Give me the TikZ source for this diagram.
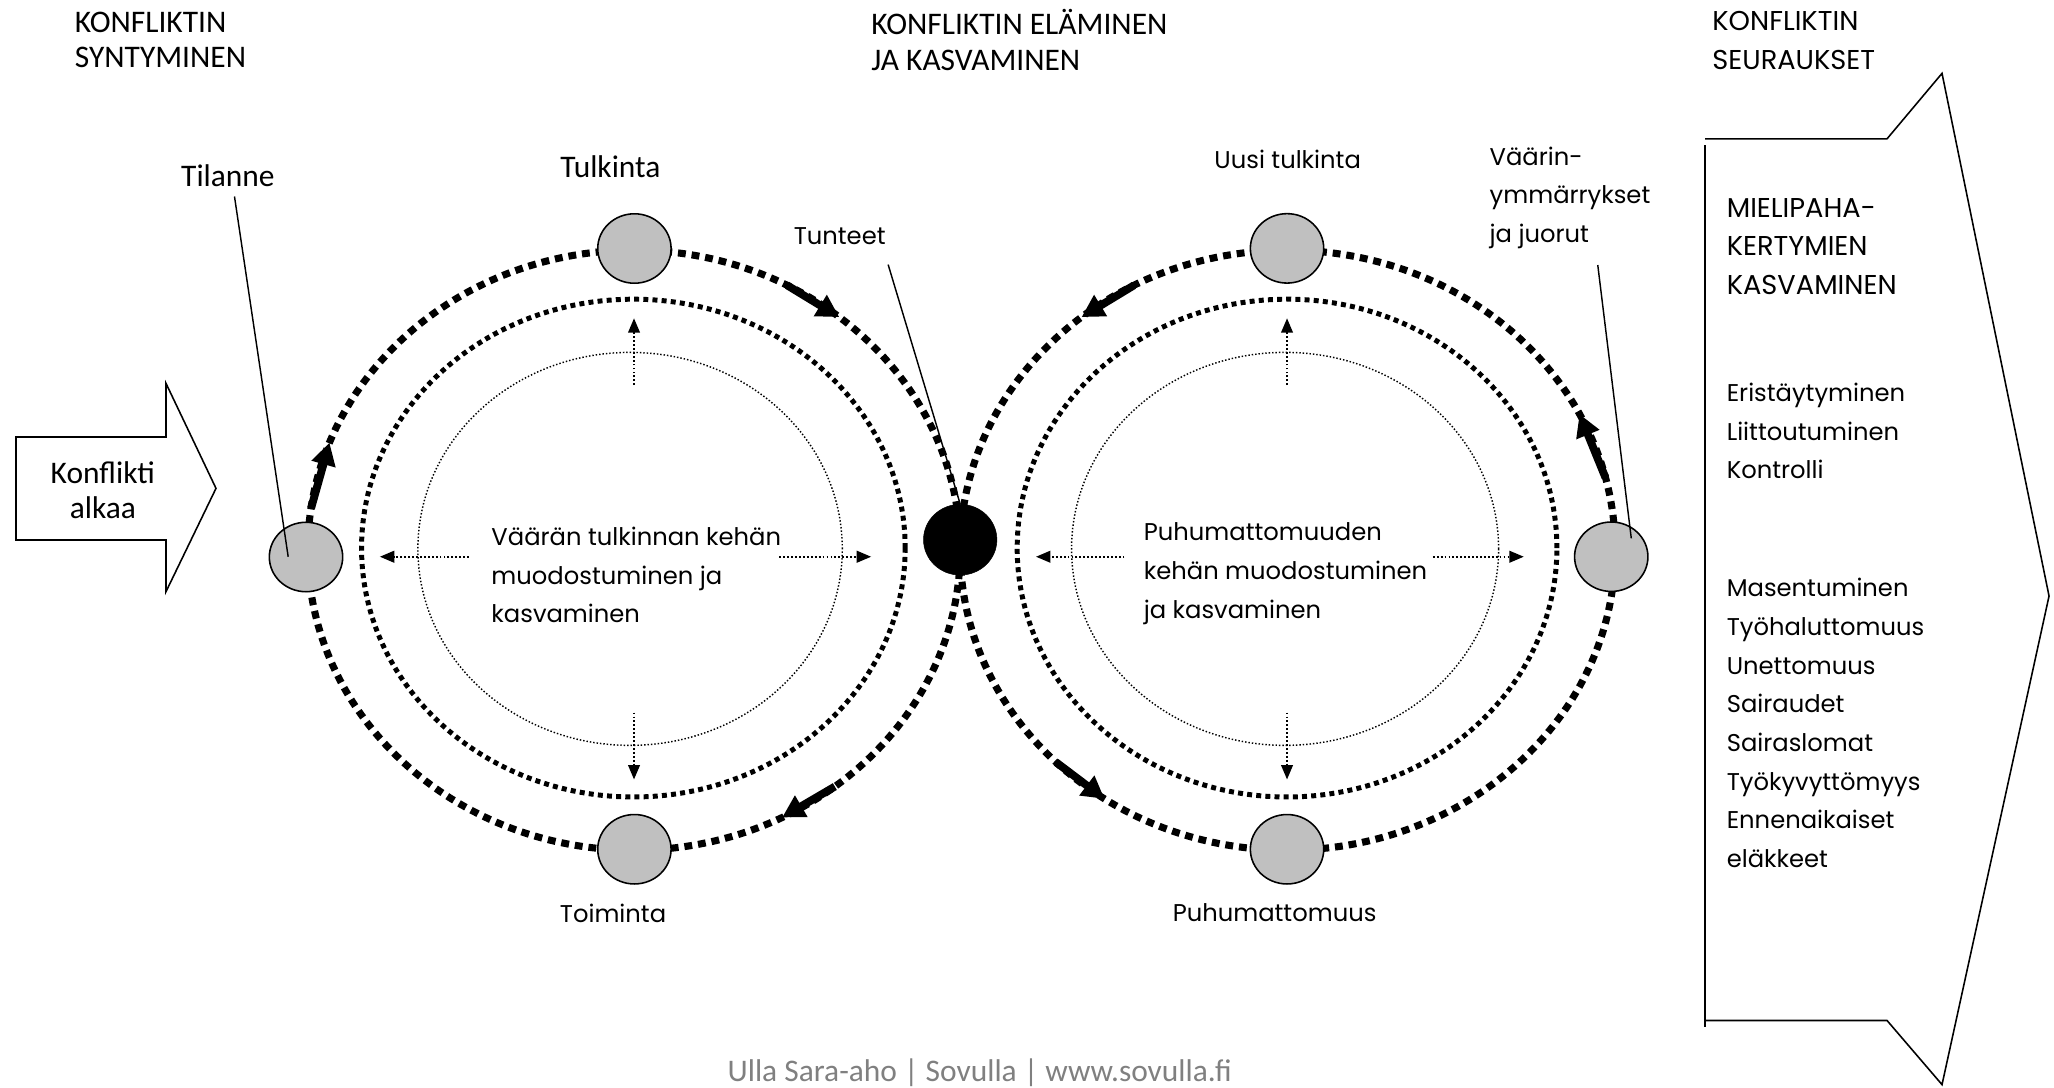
\documentclass[tikz,border=0pt]{standalone}
\usepackage{fontspec}
\setmainfont{Carlito}
\newfontfamily\fut{Poppins}
\usetikzlibrary{shapes.geometric,arrows.meta,calc}
\definecolor{cgray}{RGB}{192,192,192}
\definecolor{footgray}{RGB}{128,128,128}
\begin{document}
\begin{tikzpicture}[x=1pt,y=-1pt,
  ring/.style={line width=5.4pt, dash pattern=on 6pt off 4.5pt},
  iring/.style={line width=3.8pt, dash pattern=on 3.8pt off 3.2pt},
  thinring/.style={line width=1.1pt, dash pattern=on 1.1pt off 1.5pt},
  darrow/.style={line width=1.2pt, dash pattern=on 1.4pt off 1.6pt, -{Triangle[length=11pt,width=9pt]}},
  rarrow/.style={line width=6pt, -{Triangle[length=17pt,width=18pt]}},
  gnode/.style={ellipse, draw, line width=1.2pt, fill=cgray, minimum width=56pt, minimum height=53pt, inner sep=0pt},
  bnode/.style={ellipse, draw, fill=black, minimum width=56pt, minimum height=54pt, inner sep=0pt},
  cal/.style={font=\fontsize{24}{27}\selectfont, inner sep=0pt},
  fu/.style={font=\fut\fontsize{18.5}{29.5}\selectfont, inner sep=0pt},
  fucaps/.style={font=\fut\fontsize{20.8}{29.5}\selectfont, inner sep=0pt},
  leader/.style={line width=1.1pt},
  outline/.style={line width=1.2pt, line join=miter},
]
\useasboundingbox (0,0) rectangle (1568,830);

% headings
\node[cal, anchor=west, align=left] (h1) at (57,30.5) {KONFLIKTIN\\SYNTYMINEN};
\node[cal, anchor=west, align=left] (h2) at (665,30.5) {KONFLIKTIN ELÄMINEN\\JA KASVAMINEN};
\node[fucaps, anchor=west, align=left] (h3) at (1307,31) {KONFLIKTIN\\SEURAUKSET};

% start arrow
\draw[outline] (12.2,333.6) -- (126.7,333.6) -- (126.7,292.6) -- (164.9,372.8) -- (126.7,451.7) -- (126.7,412.2) -- (12.2,412.2) -- cycle;
\node[cal, align=center] (start) at (78.5,374) {Konflikti\\alkaa};

% rings
\coordinate (L) at (484,420);
\coordinate (R) at (983,420);
\draw[ring] (L) ellipse [x radius=249pt, y radius=229pt];
\draw[ring] (R) ellipse [x radius=250pt, y radius=229pt];
\draw[iring] (483.5,418.4) ellipse [x radius=207.5pt, y radius=190pt];
\draw[iring] (982.5,418.4) ellipse [x radius=206pt, y radius=190pt];
\draw[thinring] (481,419) ellipse [x radius=162pt, y radius=150pt];
\draw[thinring] (981,419) ellipse [x radius=163pt, y radius=150pt];

% ring arrows
\draw[rarrow] ($(L)+(172:249pt and 229pt)$) -- ($(L)+(159:249pt and 229pt)$);
\draw[rarrow] ($(L)+(62:249pt and 229pt)$) -- ($(L)+(51:249pt and 229pt)$);
\draw[rarrow] ($(L)+(-52:249pt and 229pt)$) -- ($(L)+(-63:249pt and 229pt)$);
\draw[rarrow] ($(R)+(118:250pt and 229pt)$) -- ($(R)+(129:250pt and 229pt)$);
\draw[rarrow] ($(R)+(225:250pt and 229pt)$) -- ($(R)+(236:250pt and 229pt)$);
\draw[rarrow] ($(R)+(14:250pt and 229pt)$) -- ($(R)+(27:250pt and 229pt)$);

% inner dotted arrows
\coordinate (lu1) at (484,294); \coordinate (lu2) at (484,243);
\coordinate (ld1) at (484,544); \coordinate (ld2) at (484,595);
\coordinate (ll1) at (358,425); \coordinate (ll2) at (290,425);
\coordinate (lr1) at (595,425); \coordinate (lr2) at (665,425);
\coordinate (ru1) at (982.5,294); \coordinate (ru2) at (982.5,243);
\coordinate (rd1) at (982.5,544); \coordinate (rd2) at (982.5,595);
\coordinate (rl1) at (858.4,425); \coordinate (rl2) at (790.9,425);
\coordinate (rr1) at (1093.8,425); \coordinate (rr2) at (1163.2,425);
\foreach \a in {lu,ld,ll,lr,ru,rd,rl,rr} {\draw[darrow] (\a1) -- (\a2);}

% circles
\node[gnode] (c1) at (233.6,425.2) {};
\node[gnode] (c2) at (484.3,189.7) {};
\node[gnode] (c3) at (484.3,648.3) {};
\node[bnode] (cb) at (733,412) {};
\node[gnode] (c4) at (982.5,189.6) {};
\node[gnode] (c5) at (982.5,648.3) {};
\node[gnode] (c6) at (1230,425) {};

% labels
\node[cal] (tilanne) at (174,134) {Tilanne};
\node[cal] (tulkinta) at (466,127) {Tulkinta};
\node[fu] (tunteet) at (641,180) {Tunteet};
\node[fu] (uusi) at (983,122) {Uusi tulkinta};
\node[fu, anchor=west, align=left] (vaarin) at (1137,151) {Väärin-\\ymmärrykset\\ja juorut};
\node[fu] (toiminta) at (468,697) {Toiminta};
\node[fu] (puhu) at (973,697) {Puhumattomuus};
\node[fu, anchor=west, align=left] (lt) at (375,439) {Väärän tulkinnan kehän\\muodostuminen ja\\kasvaminen};
\node[fu, anchor=west, align=left] (rt) at (873,438) {Puhumattomuuden\\kehän muodostuminen\\ja kasvaminen};

% leader lines
\coordinate (tilTop) at (179,150);
\coordinate (tilEnd) at (220,425);
\draw[leader] (tilTop) -- (tilEnd);
\coordinate (tunTop) at (678,202);
\draw[leader] (tunTop) -- (cb.north);
\coordinate (vaaTop) at (1219.7,202.3);
\coordinate (vaaEnd) at (1245.3,411);
\draw[leader] (vaaTop) -- (vaaEnd);

% consequence arrow
\draw[outline] (1301.6,106) -- (1440.5,106) -- (1482.5,56) -- (1564.2,455) -- (1482.5,828) -- (1440.5,779) -- (1301.6,779);
\draw[outline] (1301.6,111) -- (1301.6,784);
\node[fucaps, anchor=west, align=left] (b1) at (1318,188) {MIELIPAHA-\\KERTYMIEN\\KASVAMINEN};
\node[fu, anchor=west, align=left] (b2) at (1318,329) {Eristäytyminen\\Liittoutuminen\\Kontrolli};
\node[fu, anchor=west, align=left] (b3) at (1318,552) {Masentuminen\\Työhaluttomuus\\Unettomuus\\Sairaudet\\Sairaslomat\\Työkyvyttömyys\\Ennenaikaiset\\eläkkeet};

% footer
\node[cal, text=footgray] (foot) at (748,819) {Ulla Sara-aho | Sovulla | www.sovulla.fi};
\end{tikzpicture}
\end{document}
